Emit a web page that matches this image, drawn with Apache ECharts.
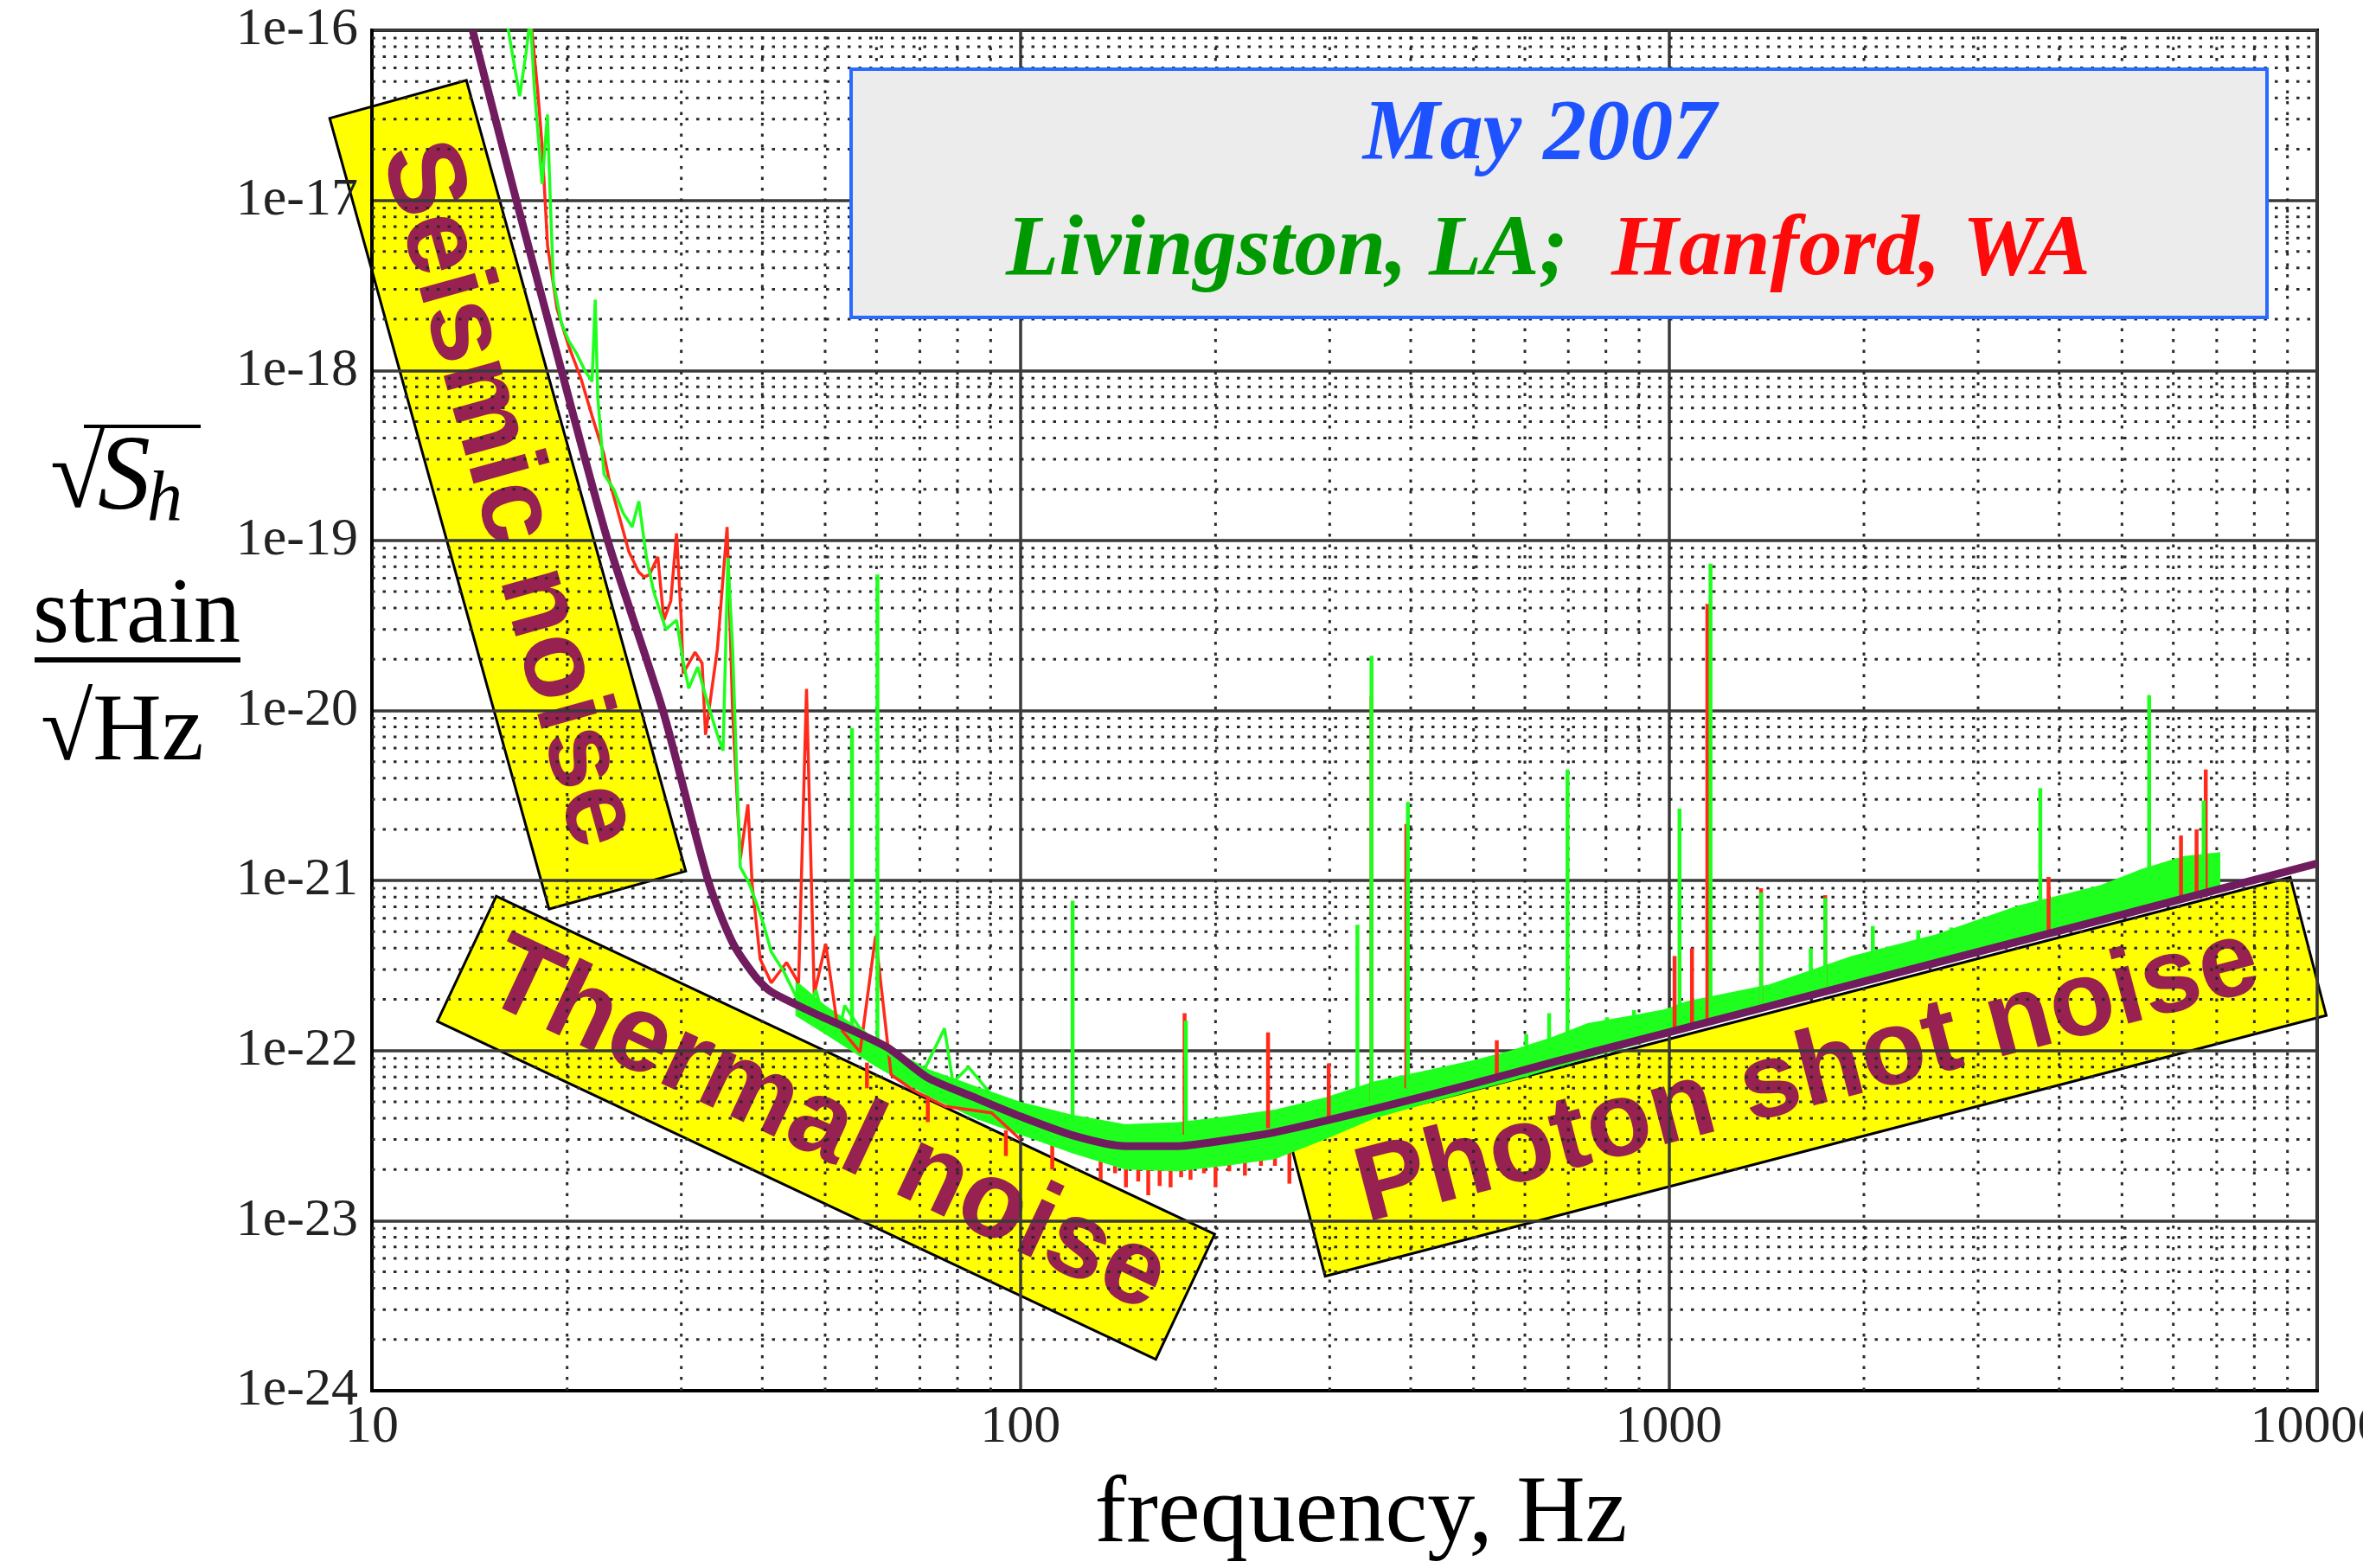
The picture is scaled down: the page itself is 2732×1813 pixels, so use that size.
<!DOCTYPE html>
<html>
<head>
<meta charset="utf-8">
<title>LIGO strain sensitivity, May 2007</title>
<script src="https://cdn.jsdelivr.net/npm/echarts@6/dist/echarts.min.js"></script>
<style>
  html, body { margin: 0; padding: 0; background: #fff; }
  #chart { width: 2732px; height: 1813px; }
</style>
</head>
<body>
<div id="chart"></div>
<script>
// design sensitivity curve, strain / sqrt(Hz)
const designFreq = [14.3, 16.7, 19.6, 23.1, 28.1, 33.0, 35.9, 39.0, 41.2, 47.3, 62.2, 71.8, 85, 100.4, 121.9, 145.5, 173.5, 207, 247, 352, 500, 671, 1000, 2000, 5000, 10000];
const designStrain = [1e-16, 1e-17, 1e-18, 1e-19, 1e-20, 1e-21, 4.4e-22, 2.74e-22, 2.23e-22, 1.71e-22, 1.05e-22, 6.97e-23, 5.3e-23, 4.08e-23, 3.13e-23, 2.74e-23, 2.74e-23, 2.97e-23, 3.31e-23, 4.54e-23, 6.4e-23, 8.65e-23, 1.28e-22, 2.55e-22, 6.3e-22, 1.26e-21];

// Livingston (green) low frequency trace [Hz, strain]
const livingstonLine = [
  [16.1, 1.2e-16], [16.9, 4.1e-17], [17.3, 7.5e-17], [17.55, 1.2e-16], [17.8, 4.6e-17], [18.3, 1.25e-17],
  [18.65, 3.2e-17], [18.85, 9.5e-18], [19.05, 3.3e-18], [19.6, 1.9e-18], [20.1, 1.5e-18], [20.7, 1.25e-18],
  [21.3, 1.0e-18], [21.85, 8.6e-19], [22.1, 2.6e-18], [22.3, 7.0e-19], [22.8, 2.45e-19], [23.6, 2.0e-19],
  [24.4, 1.45e-19], [25.2, 1.2e-19], [25.8, 1.7e-19], [26.5, 8.0e-20], [27.2, 5.0e-20], [28.4, 3.0e-20],
  [29.5, 3.4e-20], [30.15, 2.0e-20], [30.8, 1.35e-20], [31.8, 1.8e-20], [32.95, 1.1e-20], [34.1, 7.2e-21],
  [34.8, 5.8e-21], [35.4, 7.9e-20], [36.0, 2.3e-20], [36.5, 4.7e-21], [37.0, 1.2e-21], [38.1, 9.8e-22],
  [39.1, 7.5e-22], [40.2, 5.5e-22], [41.3, 3.8e-22], [43.1, 2.95e-22], [44.9, 2.15e-22], [46.7, 1.57e-22],
  [48.4, 2.27e-22], [50.1, 1.35e-22], [52.2, 1.15e-22], [53.6, 1.84e-22], [56.6, 1.35e-22], [63.2, 9.3e-23],
  [66.8, 8.0e-23], [70.5, 7.2e-23], [76.4, 1.35e-22], [78.7, 6.5e-23], [83.2, 8.0e-23], [90.3, 5.5e-23], [98, 4.7e-23]
];

// Hanford (red) low frequency trace [Hz, strain]
const hanfordLine = [
  [17.6, 1.1e-16], [18.0, 4.6e-17], [18.3, 2.1e-17], [18.66, 5.4e-18], [19.3, 2.3e-18], [20.1, 1.4e-18],
  [21.0, 9.0e-19], [21.85, 5.4e-19], [22.8, 3.2e-19], [23.2, 2.3e-19], [24.05, 1.4e-19], [24.9, 8.6e-20],
  [25.8, 6.5e-20], [26.3, 6.1e-20], [26.8, 6.3e-20], [27.6, 8.0e-20], [28.2, 3.4e-20], [28.9, 4.4e-20],
  [29.5, 1.1e-19], [30.0, 3.4e-20], [30.2, 1.65e-20], [31.5, 2.2e-20], [32.3, 1.9e-20], [32.7, 7.2e-21],
  [34.1, 2.3e-20], [35.3, 1.2e-19], [36.0, 9.8e-21], [37.0, 1.34e-21], [38.0, 2.8e-21], [38.6, 9.3e-22],
  [39.7, 3.45e-22], [41.3, 2.5e-22], [43.6, 3.3e-22], [45.5, 2.5e-22], [46.8, 1.34e-20], [48.1, 2.15e-22],
  [50.1, 4.25e-22], [52.2, 1.42e-22], [56.6, 9.8e-23], [59.8, 4.7e-22], [63.2, 7.2e-23], [68.6, 5.8e-23],
  [76.6, 4.7e-23], [90.3, 4.3e-23], [100, 3.0e-23]
];

// dense Livingston noise floor, lower / upper edge
const livingstonBandFreq = [45, 50, 60, 72, 85, 100, 120, 145, 175, 207, 247, 295, 352, 433, 500, 570, 660, 750, 870, 986, 1065, 1429, 1917, 2573, 3451, 4630, 5362, 6212, 7089];
const livingstonBandLow = [1.6e-22, 1.25e-22, 8.0e-23, 5.4e-23, 4.0e-23, 3.2e-23, 2.5e-23, 2.0e-23, 1.95e-23, 2.1e-23, 2.3e-23, 3.0e-23, 4.0e-23, 5.0e-23, 5.8e-23, 6.6e-23, 7.8e-23, 9.0e-23, 1.05e-22, 1.2e-22, 1.35e-22, 1.8e-22, 2.45e-22, 3.3e-22, 4.4e-22, 5.9e-22, 6.8e-22, 7.9e-22, 9.0e-22];
const livingstonBandHigh = [2.6e-22, 1.85e-22, 1.15e-22, 7.8e-23, 6.2e-23, 5.0e-23, 4.2e-23, 3.7e-23, 3.8e-23, 4.1e-23, 4.5e-23, 5.3e-23, 6.6e-23, 7.8e-23, 8.8e-23, 1.0e-22, 1.2e-22, 1.45e-22, 1.6e-22, 1.75e-22, 1.95e-22, 2.45e-22, 3.6e-22, 4.8e-22, 7.1e-22, 9.4e-22, 1.17e-21, 1.39e-21, 1.47e-21];

// Hanford dips below the floor [Hz, top, bottom]
const hanfordDips = [
  [58, 8.5e-23, 6.0e-23], [72, 5.5e-23, 3.8e-23], [95, 3.4e-23, 2.4e-23], [112, 2.8e-23, 2.0e-23],
  [133, 2.4e-23, 1.74e-23], [140, 2.3e-23, 1.9e-23], [145.5, 2.2e-23, 1.57e-23], [152, 2.2e-23, 1.7e-23],
  [157.5, 2.2e-23, 1.41e-23], [164, 2.2e-23, 1.6e-23], [170.5, 2.2e-23, 1.57e-23], [177, 2.2e-23, 1.8e-23],
  [183, 2.2e-23, 1.74e-23], [192, 2.3e-23, 1.9e-23], [200, 2.3e-23, 1.57e-23], [210, 2.4e-23, 1.95e-23],
  [222, 2.5e-23, 1.84e-23], [235, 2.6e-23, 2.1e-23], [247, 2.6e-23, 2.1e-23], [260, 2.8e-23, 1.65e-23]
];

// line spikes [Hz, foot, peak]
const livingstonSpikes = [
  [55.0, 1.3e-22, 7.9e-21], [60.2, 1.1e-22, 6.3e-20], [120.4, 3.5e-23, 7.6e-22], [180, 3.2e-23, 1.5e-22],
  [331, 5e-23, 5.5e-22], [348, 5e-23, 2.1e-20], [396, 6e-23, 2.9e-21], [603, 7e-23, 1.25e-22],
  [654, 8e-23, 1.66e-22], [698, 9e-23, 4.5e-21], [803, 1.0e-22, 1.57e-22], [884, 1.1e-22, 1.73e-22],
  [1039, 1.3e-22, 2.65e-21], [1160, 1.5e-22, 7.3e-20], [1388, 1.8e-22, 8.5e-22], [1656, 2.1e-22, 4.0e-22],
  [1743, 2.2e-22, 7.9e-22], [2064, 2.7e-22, 5.4e-22], [2425, 3.1e-22, 5.1e-22], [2728, 3.4e-22, 5.3e-22],
  [3069, 3.8e-22, 6.0e-22], [3741, 5e-22, 3.5e-21], [5507, 7e-22, 1.23e-20], [6683, 8e-22, 2.95e-21]
];
const hanfordSpikes = [
  [179.2, 3.2e-23, 1.66e-22], [241, 3.5e-23, 1.28e-22], [299, 4e-23, 8.4e-23], [348, 5e-23, 1.21e-20],
  [393.8, 6e-23, 2.15e-21], [543, 7e-23, 1.15e-22], [1021, 1.3e-22, 3.6e-22], [1086, 1.4e-22, 4.0e-22],
  [1147, 1.5e-22, 4.23e-20], [1388, 1.8e-22, 9.0e-22], [1743, 2.2e-22, 8.2e-22], [3853, 5e-22, 1.05e-21],
  [6166, 7.5e-22, 1.84e-21], [6517, 7.8e-22, 2.0e-21], [6733, 8e-22, 4.5e-21]
];

// axes
const xMin = 10, xMax = 10000;
const yMinExp = -24, yMaxExp = -16;
const xDecades = [10, 100, 1000];
const minorSteps = [2, 3, 4, 5, 6, 7, 8, 9];

// the log scale is fed in units of 1e-24 to keep tick values well away from rounding
const Y_UNIT = 1e24;
const toPlot = (v) => v * Y_UNIT;
const yDecades = [];
for (let e = yMinExp; e < yMaxExp; e++) yDecades.push(Math.pow(10, e));
const yLow = toPlot(Math.pow(10, yMinExp));
const yHigh = toPlot(Math.pow(10, yMaxExp));

const serif = '"Liberation Serif", "Times New Roman", serif';
const sans = '"Liberation Sans", Arial, sans-serif';
const labelInk = '#972150';
const green = '#1eff1e';
const red = '#ff2a1a';

const bandSeries = (freqs, low, high, color, z) => {
  const data = freqs.map((f, i) => [f, toPlot(low[i]), toPlot(high[i])]);
  return {
    type: 'custom', silent: true, z, encode: { x: 0, y: [1, 2] }, data,
    renderItem: (params, api) => {
      if (params.dataIndex !== 0) return null;
      const top = data.map((d) => api.coord([d[0], d[2]]));
      const bottom = data.map((d) => api.coord([d[0], d[1]])).reverse();
      return { type: 'polygon', shape: { points: top.concat(bottom) }, style: { fill: color } };
    }
  };
};

const spikeSeries = (spikes, color, z) => ({
  type: 'custom', silent: true, z, encode: { x: 0, y: [1, 2] },
  data: spikes.map((s) => [s[0], toPlot(s[1]), toPlot(s[2])]),
  renderItem: (params, api) => {
    const p1 = api.coord([api.value(0), api.value(1)]);
    const p2 = api.coord([api.value(0), api.value(2)]);
    return { type: 'line', shape: { x1: p1[0], y1: p1[1], x2: p2[0], y2: p2[1] }, style: { stroke: color, lineWidth: 4.5 } };
  }
});

const lineSeries = (points, color, width, z) => ({
  type: 'line', showSymbol: false, silent: true, z,
  lineStyle: { color, width },
  data: points.map((p) => [p[0], toPlot(p[1])])
});

// dotted minor grid at 2..9 of every decade
const minorGridStyle = { stroke: '#2a2a2a', lineWidth: 3, lineDash: [3.5, 9] };
const xMinor = [];
xDecades.forEach((d) => minorSteps.forEach((k) => xMinor.push([d * k, yLow])));
const yMinor = [];
yDecades.forEach((d) => minorSteps.forEach((k) => yMinor.push([xMin, toPlot(d * k)])));

const minorGrid = (data, vertical) => ({
  type: 'custom', silent: true, z: 1, encode: { x: 0, y: 1 }, data,
  renderItem: (params, api) => {
    const a = vertical ? api.coord([api.value(0), yLow]) : api.coord([xMin, api.value(1)]);
    const b = vertical ? api.coord([api.value(0), yHigh]) : api.coord([xMax, api.value(1)]);
    return { type: 'line', shape: { x1: a[0], y1: a[1], x2: b[0], y2: b[1] }, style: minorGridStyle };
  }
});

const noiseBox = (text, x, y, w, h, deg, size) => ({
  type: 'group', x, y, rotation: deg * Math.PI / 180, z: 100,
  children: [
    { type: 'rect', shape: { x: -w / 2, y: -h / 2, width: w, height: h }, style: { fill: '#ffff00', stroke: '#000', lineWidth: 3 } },
    { type: 'text', style: { text, x: 0, y: 0, fill: labelInk, font: 'bold ' + size + 'px ' + sans, textAlign: 'center', textVerticalAlign: 'middle', align: 'center', verticalAlign: 'middle' } }
  ]
});

const axisText = (text, x, y, font, align) => ({
  type: 'text', z: 100,
  style: { text, x, y, font, fill: '#000', textAlign: align, textVerticalAlign: 'middle', align, verticalAlign: 'middle' }
});

const chart = echarts.init(document.getElementById('chart'));
chart.setOption({
  animation: false,
  backgroundColor: '#fff',
  grid: {
    left: 430, right: 53, top: 35, bottom: 205, containLabel: false, outerBoundsMode: 'none',
    show: true, borderColor: '#000', borderWidth: 4, backgroundColor: '#fff'
  },
  xAxis: {
    type: 'log', logBase: 10, min: xMin, max: xMax, splitNumber: 3,
    axisLine: { show: true, lineStyle: { color: '#000', width: 4 } },
    axisTick: { show: false },
    axisLabel: { formatter: (v) => String(Math.round(v)), fontFamily: serif, fontSize: 62, color: '#222', margin: 12 },
    splitLine: { show: true, lineStyle: { color: '#3a3a3a', width: 3.5 } },
    name: 'frequency, Hz', nameLocation: 'middle', nameGap: 90,
    nameTextStyle: { fontFamily: serif, fontSize: 110, color: '#000', padding: [0, 0, 0, 38] }
  },
  yAxis: {
    type: 'log', logBase: 10, min: yLow, max: yHigh, splitNumber: 8,
    axisLine: { show: true, lineStyle: { color: '#000', width: 4 } },
    axisTick: { show: false },
    axisLabel: { formatter: (v) => '1e' + (Math.round(Math.log10(v)) + yMinExp), fontFamily: serif, fontSize: 62, color: '#222', margin: 16 },
    splitLine: { show: true, lineStyle: { color: '#3a3a3a', width: 3.5 } }
  },
  series: [
    minorGrid(xMinor, true),
    minorGrid(yMinor, false),
    spikeSeries(hanfordDips, red, 3),
    bandSeries(livingstonBandFreq, livingstonBandLow, livingstonBandHigh, green, 4),
    lineSeries(hanfordLine, red, 3.5, 5),
    spikeSeries(hanfordSpikes, red, 5),
    lineSeries(livingstonLine, green, 3.5, 6),
    spikeSeries(livingstonSpikes, green, 6),
    {
      type: 'line', showSymbol: false, silent: true, z: 7, smooth: 0.25,
      lineStyle: { color: '#701c5e', width: 9 },
      data: designFreq.map((f, i) => [f, toPlot(designStrain[i])])
    }
  ],
  graphic: [
    // title box
    { type: 'rect', z: 90, shape: { x: 984, y: 80, width: 1637, height: 287 }, style: { fill: '#ececec', stroke: '#2a6bff', lineWidth: 4 } },
    { type: 'text', z: 91, style: { text: 'May 2007', x: 1780, y: 157, fill: '#1f52ff', font: 'italic bold 100px ' + serif, textAlign: 'center', textVerticalAlign: 'middle', align: 'center', verticalAlign: 'middle' } },
    {
      type: 'text', z: 91,
      style: {
        text: '{g|Livingston, LA;}  {r|Hanford, WA}', x: 1790, y: 291, font: 'italic bold 100px ' + serif,
        textAlign: 'center', textVerticalAlign: 'middle', align: 'center', verticalAlign: 'middle',
        rich: {
          g: { fill: '#009a00', fontFamily: serif, fontSize: 100, fontStyle: 'italic', fontWeight: 'bold' },
          r: { fill: '#ff0a0a', fontFamily: serif, fontSize: 100, fontStyle: 'italic', fontWeight: 'bold' }
        }
      }
    },
    // noise labels
    noiseBox('Seismic noise', 587, 572, 949, 164, -74.5, 126),
    noiseBox('Thermal noise', 955, 1304, 918, 160, -25.2, 126),
    noiseBox('Photon shot noise', 2090, 1245, 1196, 165, 14.6, 123),
    // y axis title: sqrt(S_h), strain / sqrt(Hz)
    axisText('\u221A', 58, 556, '115px ' + serif, 'left'),
    axisText('S', 113, 556, 'italic 122px ' + serif, 'left'),
    axisText('h', 170, 579, 'italic 82px ' + serif, 'left'),
    { type: 'line', z: 100, shape: { x1: 97, y1: 493, x2: 232, y2: 493 }, style: { stroke: '#000', lineWidth: 4 } },
    axisText('strain', 158, 714, '108px ' + serif, 'center'),
    { type: 'line', z: 100, shape: { x1: 40, y1: 763, x2: 278, y2: 763 }, style: { stroke: '#000', lineWidth: 6 } },
    axisText('\u221AHz', 47, 849, '110px ' + serif, 'left')
  ]
});
</script>
</body>
</html>
